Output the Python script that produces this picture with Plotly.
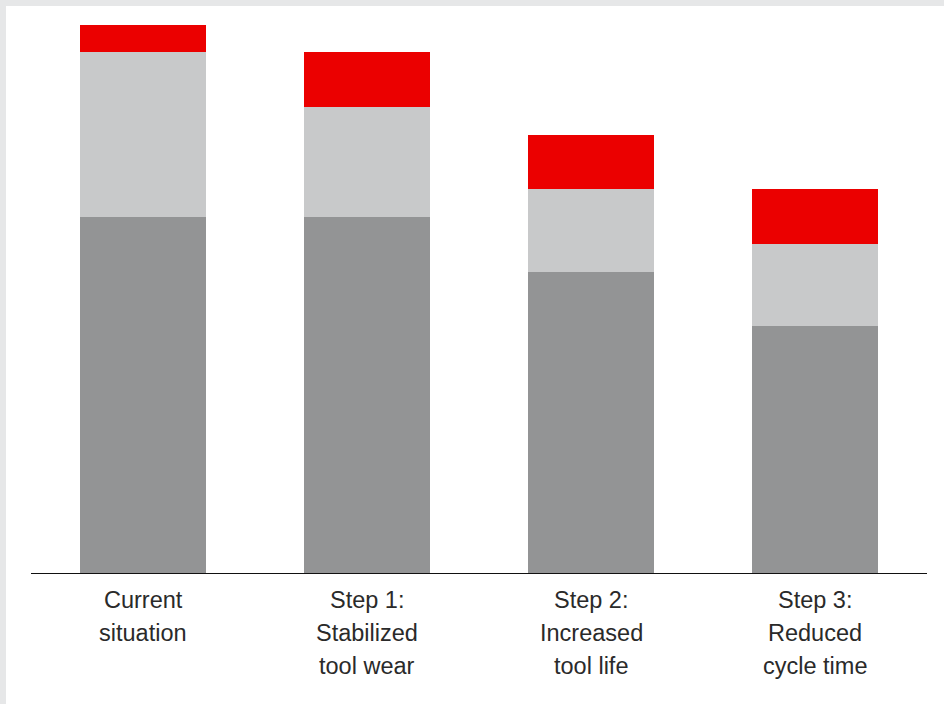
import plotly.graph_objects as go

categories = ["Current situation", "Step 1: Stabilized tool wear",
              "Step 2: Increased tool life", "Step 3: Reduced cycle time"]
label_lines = [["Current", "situation"],
               ["Step 1:", "Stabilized", "tool wear"],
               ["Step 2:", "Increased", "tool life"],
               ["Step 3:", "Reduced", "cycle time"]]
base_values = [65, 65, 55, 45]
middle_values = [30, 20, 15, 15]
top_values = [5, 10, 10, 10]

W, H = 944, 704
L, R, T, B = 31, 17, 25, 131
pw, ph = W - L - R, H - T - B

fig = go.Figure()
for vals, col, name in [(base_values, "#939495", "base"),
                        (middle_values, "#C8C9CA", "middle"),
                        (top_values, "#EB0000", "top")]:
    fig.add_trace(go.Bar(x=categories, y=vals, marker=dict(color=col, line=dict(width=0)),
                         name=name, hoverinfo="skip"))

annotations = []
for cat, lines in zip(categories, label_lines):
    for i, line in enumerate(lines):
        annotations.append(dict(x=cat, xref="x", y=0, yref="paper", text=line,
                                showarrow=False, xanchor="center", yanchor="middle",
                                yshift=-27 - 33 * i,
                                font=dict(family="Liberation Sans, Arial, sans-serif",
                                          size=23.5, color="#2a2a2a")))

shapes = [dict(type="rect", xref="paper", yref="paper", layer="below",
               x0=(6 - L) / pw, x1=(W - L) / pw,
               y0=-(B) / ph, y1=(H - B - 6) / ph,
               fillcolor="white", line=dict(width=0))]

fig.update_layout(
    width=W, height=H, barmode="stack", bargap=0.44, showlegend=False,
    margin=dict(l=L, r=R, t=T, b=B),
    paper_bgcolor="#E6E7E8", plot_bgcolor="rgba(0,0,0,0)",
    xaxis=dict(showticklabels=False, showgrid=False, zeroline=False, ticks="",
               showline=True, linecolor="#111111", linewidth=1),
    yaxis=dict(range=[0, 100], visible=False, showgrid=False, zeroline=False),
    annotations=annotations, shapes=shapes,
)
fig.write_html("out.html", config={"displayModeBar": False},
               post_script="document.body.style.margin='0';document.body.style.overflow='hidden';")
